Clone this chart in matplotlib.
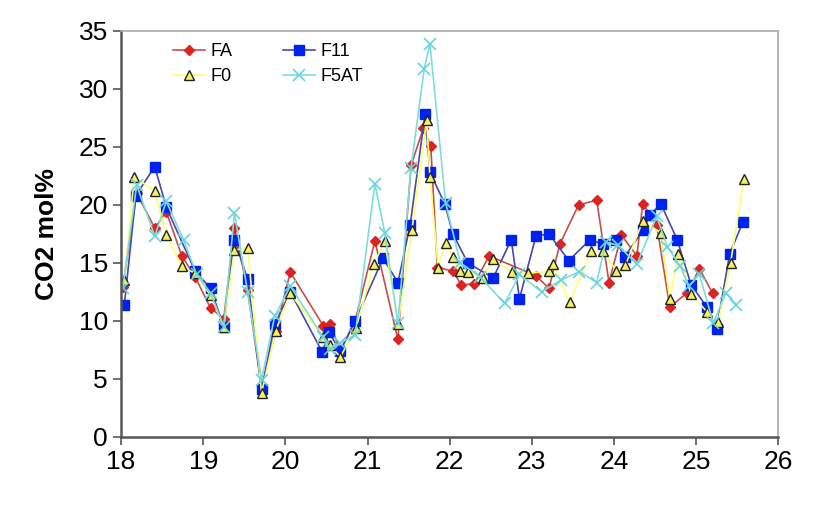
import matplotlib.pyplot as plt

plt.rcParams['font.family'] = ['Liberation Sans', 'DejaVu Sans']

# FA series
fa_x = [18.02, 18.19, 18.41, 18.55, 18.74, 18.90, 19.09, 19.25, 19.38, 19.54,
        19.71, 19.88, 20.06, 20.46, 20.54, 20.67, 20.85, 21.09, 21.37, 21.53,
        21.68, 21.77, 21.85, 22.04, 22.14, 22.30, 22.48, 23.05, 23.21, 23.34,
        23.57, 23.79, 23.94, 24.09, 24.28, 24.35, 24.52, 24.68, 24.89, 25.04, 25.20]
fa_y = [12.9, 21.0, 18.0, 19.4, 15.6, 13.8, 11.1, 10.2, 18.0, 12.7,
        4.2, 9.1, 14.2, 9.6, 9.7, 7.5, 10.0, 16.9, 8.4, 23.4,
        26.6, 25.1, 14.6, 14.3, 13.1, 13.2, 15.6, 13.9, 12.8, 16.6,
        20.0, 20.4, 13.3, 17.4, 15.6, 20.1, 18.3, 11.2, 12.4, 14.5, 12.4]

# F11 series
f11_x = [18.04, 18.18, 18.41, 18.55, 18.90, 19.09, 19.25, 19.38, 19.54, 19.71,
         19.87, 20.06, 20.45, 20.53, 20.67, 20.85, 21.19, 21.37, 21.52, 21.70,
         21.76, 21.94, 22.04, 22.22, 22.53, 22.75, 22.85, 23.05, 23.21, 23.45,
         23.71, 23.87, 24.02, 24.13, 24.35, 24.44, 24.57, 24.77, 24.94, 25.13,
         25.25, 25.41, 25.57]
f11_y = [11.4, 20.8, 23.3, 19.8, 14.3, 12.8, 9.5, 17.0, 13.6, 4.1,
         9.7, 12.5, 7.3, 9.0, 7.4, 10.0, 15.4, 13.3, 18.3, 27.8,
         22.8, 20.1, 17.5, 15.0, 13.7, 17.0, 11.9, 17.3, 17.5, 15.2,
         17.0, 16.6, 17.0, 15.5, 17.8, 19.1, 20.1, 17.0, 13.1, 11.2,
         9.3, 15.8, 18.5]

# F0 series
f0_x = [18.04, 18.16, 18.41, 18.55, 18.74, 18.90, 19.09, 19.25, 19.38, 19.54,
        19.71, 19.88, 20.06, 20.46, 20.54, 20.67, 20.86, 21.08, 21.21, 21.37,
        21.54, 21.72, 21.76, 21.86, 21.95, 22.04, 22.13, 22.22, 22.40, 22.53,
        22.76, 22.95, 23.21, 23.26, 23.46, 23.72, 23.87, 24.03, 24.14, 24.35,
        24.57, 24.68, 24.78, 24.94, 25.13, 25.27, 25.42, 25.58]
f0_y = [13.5, 22.4, 21.2, 17.4, 14.7, 14.1, 12.2, 9.5, 16.1, 16.3,
        3.8, 9.1, 12.4, 8.6, 7.9, 6.9, 9.4, 14.9, 16.9, 9.7,
        17.8, 27.3, 22.4, 14.6, 16.7, 15.5, 14.3, 14.2, 13.7, 15.3,
        14.2, 14.1, 14.3, 14.9, 11.6, 16.0, 16.0, 14.3, 14.8, 18.6,
        17.6, 11.9, 15.8, 12.3, 10.8, 9.9, 15.0, 22.2]

# F5AT series
f5_x = [18.02, 18.19, 18.41, 18.55, 18.76, 18.92, 19.09, 19.25, 19.38, 19.54,
        19.71, 19.87, 20.06, 20.46, 20.54, 20.67, 20.85, 21.09, 21.21, 21.37,
        21.53, 21.69, 21.76, 21.95, 22.13, 22.37, 22.67, 22.85, 23.12, 23.35,
        23.58, 23.79, 23.90, 24.05, 24.28, 24.52, 24.65, 24.81, 24.91, 25.04,
        25.21, 25.36, 25.49]
f5_y = [12.8, 21.7, 17.3, 20.3, 17.0, 14.0, 12.4, 9.5, 19.3, 12.5,
        4.9, 10.4, 13.0, 8.6, 7.6, 8.1, 8.8, 21.8, 17.6, 9.8,
        23.2, 31.7, 33.9, 20.2, 15.0, 13.8, 11.5, 14.0, 12.5, 13.5,
        14.25, 13.3, 16.8, 16.5, 14.9, 19.0, 16.4, 14.7, 13.0, 14.0,
        9.8, 12.4, 11.4]

fig = plt.figure(figsize=(8.35, 5.22), dpi=100)
ax = fig.add_axes([0.145, 0.163, 0.787, 0.778])

l_fa, = ax.plot(fa_x, fa_y, color='#c0504d', lw=1.2, marker='D', ms=5.5,
                mfc='#dd2222', mec='#dd2222', label='FA')
l_f11, = ax.plot(f11_x, f11_y, color='#4848a8', lw=1.2, marker='s', ms=7,
                 mfc='#0022ee', mec='#0022ee', label='F11')
l_f0, = ax.plot(f0_x, f0_y, color='#ffff70', lw=1.2, marker='^', ms=7.5,
                mfc='#f4f060', mec='#222222', mew=1.0, label='F0')
l_f5, = ax.plot(f5_x, f5_y, color='#7fdcdc', lw=1.2, marker='x', ms=8, mew=1.2,
                mec='#66d4e0', label='F5AT')

ax.set_xlim(18, 26)
ax.set_ylim(0, 35)
ax.set_xticks(range(18, 27))
ax.set_yticks(range(0, 36, 5))
ax.tick_params(axis='both', labelsize=19, length=6, width=1.2,
               color='#555555', direction='out')
ax.set_ylabel('CO2 mol%', fontsize=19, fontweight='bold', labelpad=14)

for side in ['left', 'bottom']:
    ax.spines[side].set_color('#555555')
    ax.spines[side].set_linewidth(1.8)
for side in ['top', 'right']:
    ax.spines[side].set_color('#aaaaaa')
    ax.spines[side].set_linewidth(1.2)

# legend fills column by column: FA/F0 then F11/F5AT
ax.legend([l_fa, l_f0, l_f11, l_f5], ['FA', 'F0', 'F11', 'F5AT'],
          ncol=2, loc='upper left', bbox_to_anchor=(0.055, 1.01), frameon=False,
          fontsize=13, handlelength=1.75, columnspacing=2.8, labelspacing=0.45,
          handletextpad=0.3)

fig.savefig('out.png', dpi=100)
